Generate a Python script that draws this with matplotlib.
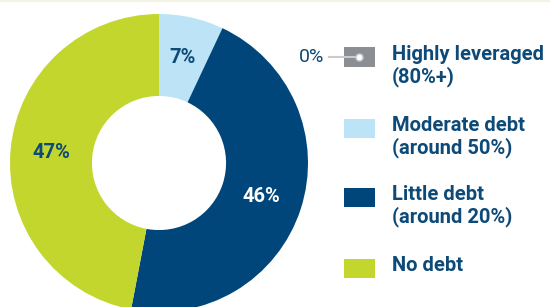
import matplotlib
matplotlib.use("Agg")
import matplotlib.pyplot as plt
from matplotlib.patches import Rectangle
from matplotlib.lines import Line2D

# --- Data ---
labels = ["Highly leveraged\n(80%+)", "Moderate debt\n(around 50%)",
          "Little debt\n(around 20%)", "No debt"]
shares = [0, 7, 46, 47]
colors = ["#8b8e92", "#bde3f7", "#00467a", "#c3d62e"]
pct_colors = ["#0d4a78", "#0d4a78", "white", "#0d4a78"]

navy = "#0d4a78"
plt.rcParams["font.family"] = ["Roboto", "DejaVu Sans"]

W, H = 550, 307
fig = plt.figure(figsize=(W / 100, H / 100), dpi=100)

# pie centre (159, 163) px, outer radius 149 px
cx, cy, R = 159, 163, 149
ax = fig.add_axes([(cx - R) / W, (H - cy - R) / H, 2 * R / W, 2 * R / H])
wedges, _, autotexts = ax.pie(
    shares, colors=colors, startangle=90, counterclock=False, radius=1,
    wedgeprops=dict(width=0.55, linewidth=0),
    autopct=lambda p: f"{p:.0f}%" if p > 0.5 else "",
    pctdistance=0.725,
    textprops=dict(fontsize=14.5, fontweight="bold"),
)
for t, c in zip(autotexts, pct_colors):
    t.set_color(c)
ax.set_xlim(-1, 1)
ax.set_ylim(-1, 1)
ax.set_aspect("equal")
ax.axis("off")

# thin rule at the top
fig.add_artist(Line2D([0, 1], [1 - 1 / H, 1 - 1 / H], color="#f2f3e3", lw=1.5))

# --- Legend (hand placed) ---
key_y = [57, 128, 197, 268]  # centre of each key, px from top
for lab, col, yk in zip(labels, colors, key_y):
    fig.add_artist(Rectangle(((344) / W, (H - yk - 9.5) / H), 31 / W, 19 / H,
                             transform=fig.transFigure, color=col, lw=0))
    fig.text(392 / W, (H - yk + 12) / H, lab, ha="left", va="top",
             fontsize=14.5, fontweight="bold", color=navy, linespacing=1.15)

# zero-share callout
yk = key_y[0]
fig.add_artist(Line2D([329 / W, 359 / W], [(H - yk) / H] * 2,
                      color="#c9cbcd", lw=1.5))
fig.add_artist(Line2D([359 / W], [(H - yk) / H], marker="o", markersize=5,
                      markerfacecolor="white", markeredgecolor="#c9cbcd",
                      markeredgewidth=1))
fig.text(324 / W, (H - yk) / H, f"{shares[0]}%", ha="right", va="center",
         fontsize=14, color=navy)

fig.savefig("out.png", dpi=100)
